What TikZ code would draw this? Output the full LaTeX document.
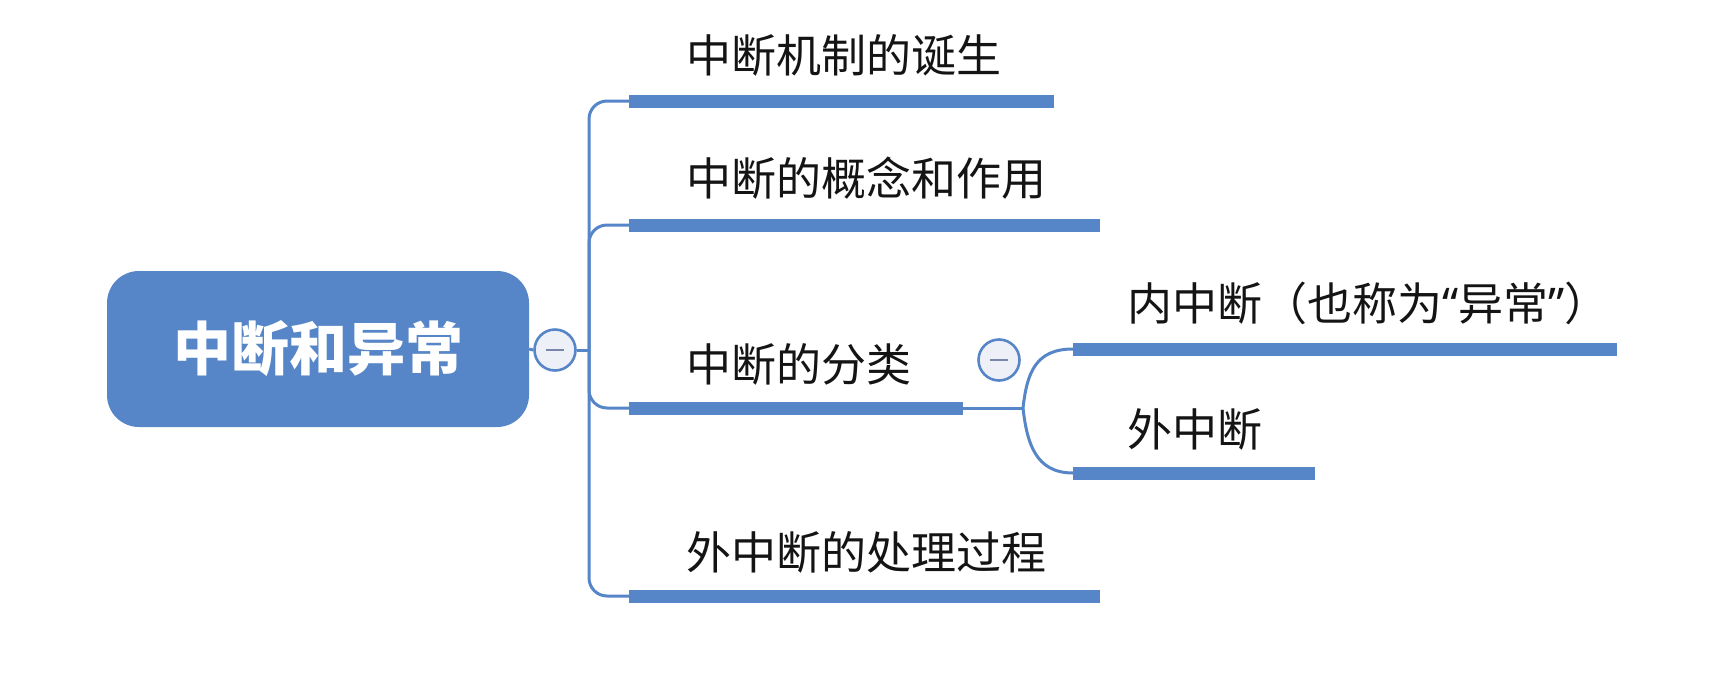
\documentclass[tikz,border=0pt]{standalone}
\usepackage{fontspec}
\newfontfamily\cjk{Noto Sans CJK SC}
\newfontfamily\latq{Noto Sans}
\definecolor{mmblue}{RGB}{86,134,199}
\definecolor{mmfill}{RGB}{238,240,248}
\definecolor{mmminus}{RGB}{120,134,170}
\definecolor{mmtext}{RGB}{20,20,20}
\begin{document}
\begin{tikzpicture}[x=1pt,y=-1pt,
  bar/.style={rectangle, fill=mmblue, inner sep=0pt, outer sep=0pt, minimum height=13pt, anchor=west},
  topic/.style={font=\cjk\fontsize{45}{54}\selectfont, text=mmtext, anchor=west, inner sep=0pt},
  link/.style={draw=mmblue, line width=3pt, rounded corners=18pt},
  toggle/.style={circle, draw=mmblue, line width=2.6pt, fill=mmfill, minimum size=41pt, inner sep=0pt},
  minus/.style={draw=mmminus, line width=2.6pt},
  rootbox/.style={rectangle, fill=mmblue, rounded corners=32pt, minimum width=422pt, minimum height=156pt, text=white, font=\cjk\bfseries\fontsize{58}{70}\selectfont, inner sep=0pt}]
\useasboundingbox (0,0) rectangle (1716,686);

% root
\node[rootbox] (root) at (318,349) {中断和异常};
\node[toggle] (c1) at (555,350) {};
\coordinate (hub) at (589,350);

% bars
\node[bar, minimum width=425pt] (b1) at (629,101) {};
\node[bar, minimum width=471pt] (b2) at (629,225) {};
\node[bar, minimum width=334pt] (b3) at (629,408) {};
\node[bar, minimum width=471pt] (b4) at (629,596) {};
\node[bar, minimum width=544pt] (b5) at (1073,349) {};
\node[bar, minimum width=242pt] (b6) at (1073,473) {};

% texts
\node[topic] (t1) at (686,55) {中断机制的诞生};
\node[topic] (t2) at (686,178) {中断的概念和作用};
\node[topic] (t3) at (686,364) {中断的分类};
\node[topic] (t4) at (686,552) {外中断的处理过程};
\node[topic] (t5) at (1127,303) {内中断（也称为{\latq “}异常{\latq ”}）};
\node[topic] (t6) at (1127,429) {外中断};

% connectors
\draw[link] (root.east) -- (c1.west);
\draw[link] (c1.east) -- (hub);
\draw[link] (hub) |- (b1.west);
\draw[link] (hub) |- (b2.west);
\draw[link] (hub) |- (b3.west);
\draw[link] (hub) |- (b4.west);

\coordinate (j) at (1023,408);
\draw[link] (b3.east) -- (j);
\draw[link] (j) .. controls (1027,372) and (1036,349) .. (b5.west);
\draw[link] (j) .. controls (1027,444) and (1036,473) .. (b6.west);

\node[toggle] (c2) at (999,360) {};

% minus signs
\draw[minus] ([xshift=-9pt]c1.center) -- ([xshift=9pt]c1.center);
\draw[minus] ([xshift=-9pt]c2.center) -- ([xshift=9pt]c2.center);
\end{tikzpicture}
\end{document}
